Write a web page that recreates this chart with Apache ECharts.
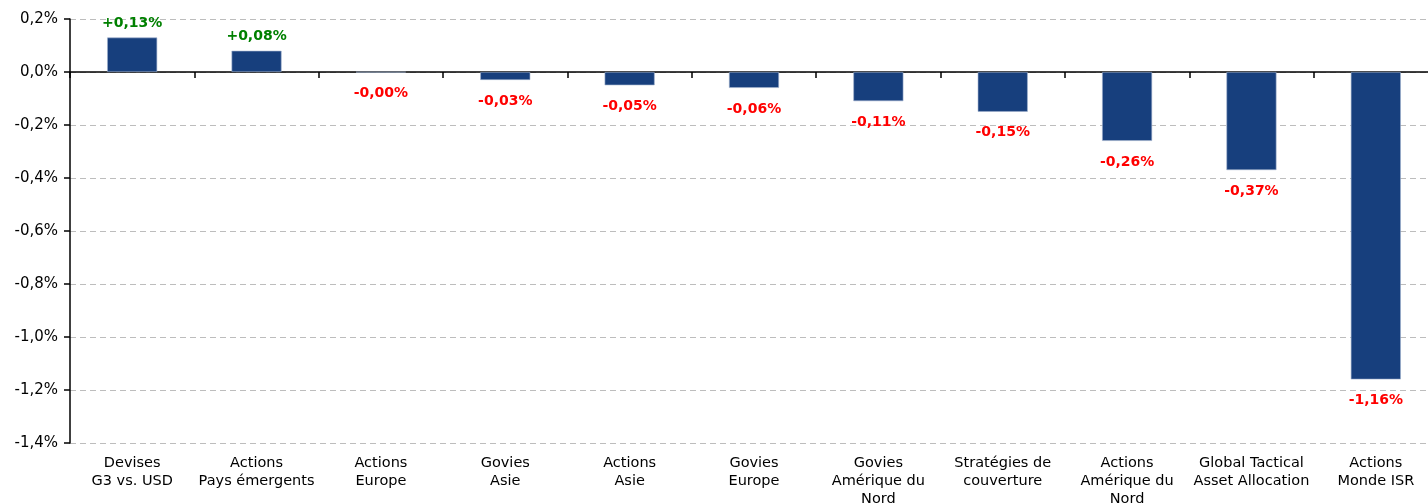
<!DOCTYPE html>
<html>
<head>
<meta charset="utf-8">
<script src="https://cdn.jsdelivr.net/npm/echarts@6/dist/echarts.min.js"></script>
<style>
  html, body { margin: 0; padding: 0; background: #fff; }
  #chart { width: 1428px; height: 503px; }
</style>
</head>
<body>
<div id="chart"></div>
<script>
// categories and contributions (%)
const categories = [
    'Devises\nG3 vs. USD',
    'Actions\nPays émergents',
    'Actions\nEurope',
    'Govies\nAsie',
    'Actions\nAsie',
    'Govies\nEurope',
    'Govies\nAmérique du\nNord',
    'Stratégies de\ncouverture',
    'Actions\nAmérique du\nNord',
    'Global Tactical\nAsset Allocation',
    'Actions\nMonde ISR'
];
const values = [0.13, 0.08, -0.001, -0.03, -0.05, -0.06, -0.11, -0.15, -0.26, -0.37, -1.16];

const yMin = -1.4;
const yMax = 0.2;
const yStep = 0.2;

const font = '"DejaVu Sans", Verdana, sans-serif';

function fmtAxis(v) {
    let r = Math.round(v * 10) / 10;
    if (Math.abs(r) < 1e-9) r = 0;
    return r.toFixed(1).replace('.', ',') + '%';
}
function fmtLabel(v) {
    const s = Math.abs(v).toFixed(2).replace('.', ',');
    return (v >= 0 ? '+' : '-') + s + '%';
}

const chart = echarts.init(document.getElementById('chart'));

const option = {
    animation: false,
    grid: { left: 70, right: -10, top: 19, bottom: 60, containLabel: false, outerBoundsMode: 'none' },
    xAxis: [
        {
            type: 'category',
            data: categories,
            position: 'bottom',
            axisLine: { show: false, onZero: false },
            axisTick: { show: false },
            axisLabel: {
                interval: 0,
                color: '#000',
                fontFamily: font,
                fontSize: 14.5,
                lineHeight: 18,
                margin: 11
            },
            splitLine: { show: false }
        },
        {
            type: 'category',
            data: categories,
            position: 'bottom',
            axisLine: { show: true, onZero: true, lineStyle: { color: '#000', width: 1.5 } },
            axisTick: { show: true, length: 6, lineStyle: { color: '#000', width: 1.5 } },
            axisLabel: { show: false },
            splitLine: { show: false }
        }
    ],
    yAxis: {
        type: 'value',
        min: yMin,
        max: yMax,
        interval: yStep,
        axisLine: { show: true, lineStyle: { color: '#000', width: 1.5 } },
        axisTick: { show: true, length: 6, lineStyle: { color: '#000', width: 1.5 } },
        axisLabel: {
            color: '#000',
            fontFamily: font,
            fontSize: 15,
            margin: 12,
            formatter: fmtAxis
        },
        splitLine: { show: true, lineStyle: { color: '#bdbdbd', type: [6, 4], width: 1 } }
    },
    series: [
        {
            type: 'bar',
            xAxisIndex: 0,
            data: values.map(v => ({
                value: v,
                label: {
                    position: v >= 0 ? 'top' : 'bottom',
                    distance: v >= 0 ? 7 : 14,
                    color: v >= 0 ? '#008000' : '#ff0000'
                }
            })),
            barWidth: 50,
            itemStyle: { color: '#173f7d', borderColor: '#9fb0cc', borderWidth: 0.6 },
            label: {
                show: true,
                fontFamily: font,
                fontSize: 14,
                fontWeight: 'bold',
                formatter: p => fmtLabel(p.value)
            }
        }
    ]
};
chart.setOption(option);
</script>
</body>
</html>
